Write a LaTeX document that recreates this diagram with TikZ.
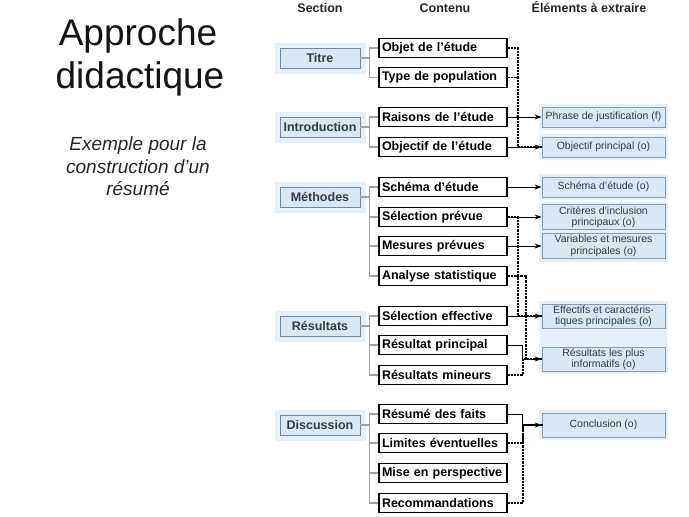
\documentclass[tikz,border=0pt]{standalone}
\usepackage{fontspec}
\setmainfont{Liberation Sans}
\usepackage{xcolor}
\usepackage{tikz}
\usetikzlibrary{arrows.meta}
\definecolor{boxblue}{HTML}{DAE7F5}
\definecolor{haloblue}{HTML}{E7EFF9}
\definecolor{edgeblue}{HTML}{6F88A4}
\definecolor{inkgray}{HTML}{333B46}
\definecolor{treegray}{HTML}{A4A4A4}

\tikzset{
  secbox/.style={draw=edgeblue, fill=boxblue, line width=0.9pt,
    preaction={draw=haloblue, line width=11pt},
    minimum width=80pt, minimum height=20pt, inner sep=0pt,
    font=\fontsize{12.5}{14}\selectfont\bfseries, text=inkgray},
  contbox/.style={draw=black, fill=white, line width=1.1pt,
    minimum height=19.5pt, text width=122pt, inner xsep=3pt, inner ysep=0pt,
    align=left, font=\fontsize{12.5}{14}\selectfont\bfseries},
  extbox/.style={draw=edgeblue!85, fill=boxblue, line width=0.8pt,
    preaction={draw=haloblue, line width=6pt},
    minimum width=123pt, minimum height=20pt, inner sep=1pt, align=center,
    font=\fontsize{10.5}{11.5}\selectfont, text=inkgray},
  header/.style={anchor=base, font=\fontsize{12.5}{14}\selectfont\bfseries, text=black!85},
  treeline/.style={draw=treegray, line width=1.2pt},
  solidarrow/.style={draw=black, line width=1pt, -{Stealth[length=7pt,width=5pt]}},
  dotline/.style={draw=black, line width=1.9pt, dash pattern=on 2.2pt off 1pt}
}

\begin{document}
\begin{tikzpicture}[x=1pt, y=-1pt]
  \useasboundingbox (0,0) rectangle (689,517);

  % left titles
  \node[anchor=base, font=\fontsize{37}{43}\selectfont, text=black!92] (approche) at (138,45) {Approche};
  \node[anchor=base, font=\fontsize{37}{43}\selectfont, text=black!92] (didactique) at (140,88) {didactique};
  \node[anchor=base, font=\fontsize{19}{22}\selectfont\itshape, text=black!85] (sub1) at (138,150) {Exemple pour la};
  \node[anchor=base, font=\fontsize{19}{22}\selectfont\itshape, text=black!85] (sub2) at (138,173) {construction d’un};
  \node[anchor=base, font=\fontsize{19}{22}\selectfont\itshape, text=black!85] (sub3) at (138,195) {résumé};

  % column headers
  \node[header] (hsection) at (320,12.5) {Section};
  \node[header] (hcontenu) at (445,12.5) {Contenu};
  \node[header] (helements) at (589,12.5) {Éléments à extraire};

  % extracted elements (drawn first, halo behind)
  \fill[haloblue] (540,326) rectangle (667,349);
  \node[extbox] (justif) at (603.5,117) {Phrase de justification (f)};
  \node[extbox] (objprinc) at (603.5,147) {Objectif principal (o)};
  \node[extbox] (schemao) at (603.5,187) {Schéma d’étude (o)};
  \node[extbox, minimum height=25pt] (criteres) at (603.5,217) {Critères d’inclusion\\principaux (o)};
  \node[extbox, minimum height=25pt] (variables) at (603.5,246) {Variables et mesures\\principales (o)};
  \node[extbox, minimum height=24pt] (effectifs) at (603.5,316) {Effectifs et caractéris-\\tiques principales (o)};
  \node[extbox, minimum height=24pt] (informatifs) at (603.5,359) {Résultats les plus\\informatifs (o)};
  \node[extbox, minimum height=24pt] (conclusion) at (603.5,425) {Conclusion (o)};

  % sections
  \node[secbox] (titre) at (320,58) {Titre};
  \node[secbox] (intro) at (320,127) {Introduction};
  \node[secbox] (methodes) at (320,197) {Méthodes};
  \node[secbox] (resultats) at (320,326) {Résultats};
  \node[secbox] (discussion) at (320,425) {Discussion};

  % contents
  \node[contbox] (objet) at (443,48) {Objet de l’étude};
  \node[contbox] (typepop) at (443,77.5) {Type de population};
  \node[contbox] (raisons) at (443,117) {Raisons de l’étude};
  \node[contbox] (objectif) at (443,147) {Objectif de l’étude};
  \node[contbox] (schema) at (443,187) {Schéma d’étude};
  \node[contbox] (selprev) at (443,217) {Sélection prévue};
  \node[contbox] (mesures) at (443,246) {Mesures prévues};
  \node[contbox] (analyse) at (443,276) {Analyse statistique};
  \node[contbox] (seleff) at (443,316) {Sélection effective};
  \node[contbox] (resprinc) at (443,345) {Résultat principal};
  \node[contbox] (resmin) at (443,375) {Résultats mineurs};
  \node[contbox] (resume) at (443,414) {Résumé des faits};
  \node[contbox] (limites) at (443,443) {Limites éventuelles};
  \node[contbox] (perspective) at (443,473) {Mise en perspective};
  \node[contbox] (recomm) at (443,503) {Recommandations};

  % section -> content brackets
  \draw[treeline] (titre.east) -- ++(9,0) |- (objet.west);
  \draw[treeline] (titre.east) -- ++(9,0) |- (typepop.west);
  \draw[treeline] (intro.east) -- ++(9,0) |- (raisons.west);
  \draw[treeline] (intro.east) -- ++(9,0) |- (objectif.west);
  \draw[treeline] (methodes.east) -- ++(9,0) |- (schema.west);
  \draw[treeline] (methodes.east) -- ++(9,0) |- (selprev.west);
  \draw[treeline] (methodes.east) -- ++(9,0) |- (mesures.west);
  \draw[treeline] (methodes.east) -- ++(9,0) |- (analyse.west);
  \draw[treeline] (resultats.east) -- ++(9,0) |- (seleff.west);
  \draw[treeline] (resultats.east) -- ++(9,0) |- (resprinc.west);
  \draw[treeline] (resultats.east) -- ++(9,0) |- (resmin.west);
  \draw[treeline] (discussion.east) -- ++(9,0) |- (resume.west);
  \draw[treeline] (discussion.east) -- ++(9,0) |- (limites.west);
  \draw[treeline] (discussion.east) -- ++(9,0) |- (perspective.west);
  \draw[treeline] (discussion.east) -- ++(9,0) |- (recomm.west);

  % titre / introduction
  \draw[dotline] (objet.east) -- ++(10,0) |- (objprinc.west);
  \draw[dotline] (typepop.east) -- ++(10,0);
  \draw[solidarrow] (raisons.east) -- (justif.west);
  \draw[solidarrow] (objectif.east) -- (objprinc.west);
  \fill ([xshift=10pt]typepop.east) circle (1.8);
  \fill ([xshift=10pt]raisons.east) circle (1.8);

  % methodes / resultats
  \draw[solidarrow] (schema.east) -- (schemao.west);
  \draw[dotline] (selprev.east) -- ++(10,0) |- (effectifs.west);
  \draw[solidarrow] (selprev.east) -- (criteres.west);
  \draw[solidarrow] (mesures.east) -- (variables.west);
  \draw[dotline] (analyse.east) -- ++(18,0) |- (informatifs.west);
  \draw[solidarrow] (seleff.east) -- (effectifs.west);
  \draw[solidarrow] (resprinc.east) -- ++(15,0) |- (informatifs.west);
  \draw[dotline] (resmin.east) -- ++(15,0) |- (informatifs.west);
  \fill ([xshift=10pt]analyse.east) circle (1.8);
  \fill ([xshift=18pt]seleff.east) circle (1.8);

  % discussion
  \draw[solidarrow] (resume.east) -- ++(15,0) |- (conclusion.west);
  \draw[dotline] (limites.east) -- ++(15,0) |- (conclusion.west);
  \draw[dotline] (recomm.east) -- ++(15,0) |- (conclusion.west);
\end{tikzpicture}
\end{document}
